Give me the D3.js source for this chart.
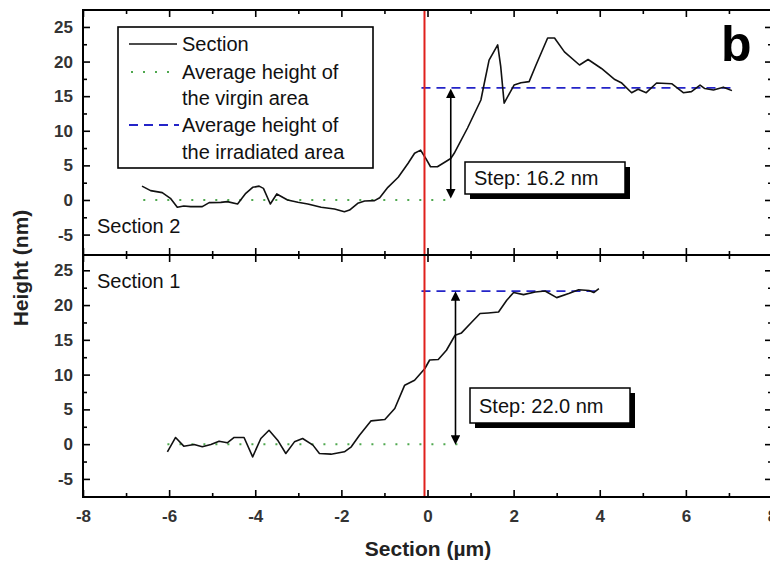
<!DOCTYPE html>
<html>
<head>
<meta charset="utf-8">
<script src="https://cdn.jsdelivr.net/npm/d3@7"></script>
<style>
  body { margin: 0; background: #fff; }
  svg { display: block; }
  text { font-family: Arial, "Liberation Sans", sans-serif; }
</style>
</head>
<body>
<svg id="chart" width="770" height="561"></svg>
<script>
// section 2 (upper panel) profile
var sec2X = [-6.63,-6.43,-6.16,-5.97,-5.81,-5.66,-5.50,-5.23,-5.07,-4.80,-4.65,-4.41,-4.22,-4.06,-3.91,-3.81,-3.65,-3.50,-3.25,-3.01,-2.78,-2.47,-2.16,-1.93,-1.81,-1.62,-1.46,-1.23,-1.11,-0.92,-0.68,-0.45,-0.30,-0.16,-0.04,0.07,0.23,0.54,0.62,0.93,1.24,1.32,1.43,1.63,1.70,1.78,2.01,2.17,2.36,2.52,2.79,2.95,3.18,3.53,3.73,4.04,4.35,4.50,4.74,4.89,5.08,5.32,5.67,5.94,6.13,6.33,6.44,6.64,6.87,7.07];
var sec2Y = [2.0,1.35,1.06,0.24,-1.06,-0.87,-0.96,-0.96,-0.38,-0.34,-0.24,-0.58,0.96,1.83,2.0,1.68,-0.58,0.87,0,-0.34,-0.58,-1.06,-1.3,-1.69,-1.45,-0.48,-0.14,-0.1,0.33,1.83,3.28,5.3,6.75,7.2,6.0,4.8,4.8,6.0,6.75,10.4,14.45,16.9,20.2,22.4,19.3,14.0,16.6,16.95,17.1,19.5,23.4,23.4,21.4,19.5,20.3,19.0,17.4,16.95,15.5,16.0,15.5,16.9,16.8,15.5,15.65,16.6,16.1,15.9,16.3,15.8];

// section 1 (lower panel) profile
var sec1X = [-6.04,-5.85,-5.66,-5.42,-5.23,-5.03,-4.84,-4.65,-4.49,-4.26,-4.06,-3.87,-3.68,-3.48,-3.29,-3.09,-2.90,-2.66,-2.51,-2.24,-1.93,-1.77,-1.58,-1.31,-0.99,-0.76,-0.53,-0.30,-0.06,0.05,0.25,0.44,0.64,0.79,1.03,1.22,1.41,1.65,1.84,2.0,2.23,2.50,2.73,3.0,3.28,3.51,3.75,3.86,3.98];
var sec1Y = [-1.1,0.96,-0.29,-0.05,-0.38,-0.05,0.43,0.19,0.96,0.96,-1.82,0.81,2.0,0.57,-1.34,0.33,0.81,-0.14,-1.34,-1.44,-1.1,-0.38,1.29,3.35,3.55,5.13,8.48,9.2,10.88,12.1,12.17,13.5,15.66,16.0,17.57,18.78,18.87,19.0,20.7,21.8,21.5,21.88,22.03,21.07,21.65,22.2,22.1,21.8,22.37];

// averages: [xStart, xEnd], level
var virgin2 = [-6.6, 0.56], virgin2Level = 0;
var irrad2 = [-0.14, 7.1], irrad2Level = 16.2;
var virgin1 = [-6.04, 0.85], virgin1Level = 0;
var irrad1 = [-0.14, 4.0], irrad1Level = 22.0;

// step arrows: x, from, to
var step2 = [0.54, 0.9, 15.4];
var step1 = [0.65, 0.6, 21.3];
var stepLabels = ["Step: 16.2 nm", "Step: 22.0 nm"];

var zeroLine = -0.07;

var xMajor = [-8, -6, -4, -2, 0, 2, 4, 6, 8];
var xMinor = [-7, -5, -3, -1, 1, 3, 5, 7];
var yMajor = [-5, 0, 5, 10, 15, 20, 25];
var yMinor = [-2.5, 2.5, 7.5, 12.5, 17.5, 22.5];

var legendLabels = ["Section", "Average height of", "the virgin area", "Average height of", "the irradiated area"];

var plotL = 83, plotR = 772, plotT = 10, plotM = 255, plotB = 497;

var svg = d3.select("#chart");

var x = d3.scaleLinear().domain([-8, 8]).range([plotL, plotR]);
var yTop = d3.scaleLinear().domain([-7.95, 27.45]).range([plotM, plotT]);
var yBot = d3.scaleLinear().domain([-7.6, 27.2]).range([plotB, plotM]);

var green = "#4fa84f", blue = "#2424c8", red = "#e0201c";

function styleTicks(g) {
  g.select(".domain").remove();
  g.selectAll("line").attr("stroke", "#000").attr("stroke-width", 1.6);
  g.selectAll("text")
    .attr("font-family", "Arial, 'Liberation Sans', sans-serif")
    .attr("font-size", 17)
    .attr("font-weight", "bold")
    .attr("fill", "#333");
}

function yAxes(scale) {
  svg.append("g").attr("transform", `translate(${plotL},0)`)
    .call(d3.axisLeft(scale).tickValues(yMajor).tickSize(-7).tickPadding(10).tickFormat(d => String(d)))
    .call(styleTicks);
  svg.append("g").attr("transform", `translate(${plotL},0)`)
    .call(d3.axisLeft(scale).tickValues(yMinor).tickSize(-4).tickFormat(""))
    .call(styleTicks);
  svg.append("g").attr("transform", `translate(${plotR},0)`)
    .call(d3.axisRight(scale).tickValues(yMajor).tickSize(-7).tickFormat(""))
    .call(styleTicks);
  svg.append("g").attr("transform", `translate(${plotR},0)`)
    .call(d3.axisRight(scale).tickValues(yMinor).tickSize(-4).tickFormat(""))
    .call(styleTicks);
}

yAxes(yTop);
yAxes(yBot);

// x ticks: top (down), middle (both ways), bottom (up, labelled)
function xTicks(yPos, dir, size, vals, labels) {
  var ax = dir === "up" ? d3.axisBottom(x) : d3.axisTop(x);
  ax.tickValues(vals).tickSize(-size).tickPadding(13);
  ax.tickFormat(labels ? (d => String(d)) : "");
  svg.append("g").attr("transform", `translate(0,${yPos})`).call(ax).call(styleTicks);
}
xTicks(plotT, "down", 7, xMajor, false);
xTicks(plotT, "down", 4, xMinor, false);
xTicks(plotM, "down", 7, xMajor, false);
xTicks(plotM, "down", 4, xMinor, false);
xTicks(plotM, "up", 7, xMajor, false);
xTicks(plotM, "up", 4, xMinor, false);
xTicks(plotB, "up", 7, xMajor, true);
xTicks(plotB, "up", 4, xMinor, false);

// reference lines
function hline(scale, span, level, color, dash, width) {
  svg.append("line")
    .attr("x1", x(span[0])).attr("x2", x(span[1]))
    .attr("y1", scale(level)).attr("y2", scale(level))
    .attr("stroke", color).attr("stroke-width", width)
    .attr("stroke-dasharray", dash);
}
hline(yTop, virgin2, virgin2Level, green, "2,10", 2);
hline(yBot, virgin1, virgin1Level, green, "2,10", 2);
hline(yTop, irrad2, irrad2Level, blue, "9,6", 1.8);
hline(yBot, irrad1, irrad1Level, blue, "9,6", 1.8);

// profiles
function profile(xs, ys, scale) {
  var line = d3.line().x(d => x(d[0])).y(d => scale(d[1]));
  svg.append("path")
    .datum(xs.map((v, i) => [v, ys[i]]))
    .attr("d", line)
    .attr("fill", "none")
    .attr("stroke", "#111")
    .attr("stroke-width", 1.6)
    .attr("stroke-linejoin", "round");
}
profile(sec2X, sec2Y, yTop);
profile(sec1X, sec1Y, yBot);

// red zero line
svg.append("line")
  .attr("x1", x(zeroLine)).attr("x2", x(zeroLine))
  .attr("y1", plotT).attr("y2", plotB)
  .attr("stroke", red).attr("stroke-width", 2);

// step arrows
var defs = svg.append("defs");
defs.append("marker").attr("id", "head")
  .attr("viewBox", "0 0 10 10").attr("refX", 5).attr("refY", 5)
  .attr("markerWidth", 6).attr("markerHeight", 6)
  .attr("orient", "auto-start-reverse")
  .append("path").attr("d", "M0,0L10,5L0,10Z").attr("fill", "#000");

function arrow(scale, s) {
  svg.append("line")
    .attr("x1", x(s[0])).attr("x2", x(s[0]))
    .attr("y1", scale(s[1])).attr("y2", scale(s[2]))
    .attr("stroke", "#000").attr("stroke-width", 1.6)
    .attr("marker-start", "url(#head)").attr("marker-end", "url(#head)");
}
arrow(yTop, step2);
arrow(yBot, step1);

// step boxes
function stepBox(bx, by, bw, bh, label) {
  svg.append("rect").attr("x", bx + 5).attr("y", by + 5).attr("width", bw).attr("height", bh).attr("fill", "#000");
  svg.append("rect").attr("x", bx).attr("y", by).attr("width", bw).attr("height", bh)
    .attr("fill", "#fff").attr("stroke", "#000").attr("stroke-width", 1.5);
  svg.append("text").attr("x", bx + 9).attr("y", by + bh / 2 + 7)
    .attr("font-size", 20).attr("fill", "#111").text(label);
}
stepBox(465, 162, 160, 32, stepLabels[0]);
stepBox(470, 388, 160, 35, stepLabels[1]);

// legend
svg.append("rect").attr("x", 118).attr("y", 27).attr("width", 255).attr("height", 141)
  .attr("fill", "#fff").attr("stroke", "#000").attr("stroke-width", 1.6);
var rowY = [44, 72, 98, 125, 152];
svg.append("line").attr("x1", 129).attr("x2", 177).attr("y1", rowY[0]).attr("y2", rowY[0])
  .attr("stroke", "#111").attr("stroke-width", 1.6);
svg.append("line").attr("x1", 131).attr("x2", 177).attr("y1", rowY[1]).attr("y2", rowY[1])
  .attr("stroke", green).attr("stroke-width", 2).attr("stroke-dasharray", "2,10");
svg.append("line").attr("x1", 129).attr("x2", 179).attr("y1", rowY[3]).attr("y2", rowY[3])
  .attr("stroke", blue).attr("stroke-width", 1.8).attr("stroke-dasharray", "9,6");
legendLabels.forEach(function(t, i) {
  svg.append("text").attr("x", 182).attr("y", rowY[i] + 7)
    .attr("font-size", 20).attr("fill", "#111").text(t);
});

// panel labels
svg.append("text").attr("x", 97).attr("y", 233).attr("font-size", 20).attr("fill", "#111").text("Section 2");
svg.append("text").attr("x", 97).attr("y", 288).attr("font-size", 20).attr("fill", "#111").text("Section 1");
svg.append("text").attr("x", 721).attr("y", 61).attr("font-size", 50).attr("font-weight", "bold").attr("fill", "#000").text("b");

// frame
svg.append("rect").attr("x", plotL).attr("y", plotT).attr("width", plotR - plotL).attr("height", plotB - plotT)
  .attr("fill", "none").attr("stroke", "#000").attr("stroke-width", 2);
svg.append("line").attr("x1", plotL).attr("x2", plotR).attr("y1", plotM).attr("y2", plotM)
  .attr("stroke", "#000").attr("stroke-width", 2);

// axis titles
svg.append("text").attr("x", 428).attr("y", 556)
  .attr("text-anchor", "middle").attr("font-size", 21).attr("font-weight", "bold").attr("fill", "#222")
  .text("Section (µm)");
svg.append("text").attr("transform", "translate(28,268) rotate(-90)")
  .attr("text-anchor", "middle").attr("font-size", 21).attr("font-weight", "bold").attr("fill", "#222")
  .text("Height (nm)");
</script>
</body>
</html>
